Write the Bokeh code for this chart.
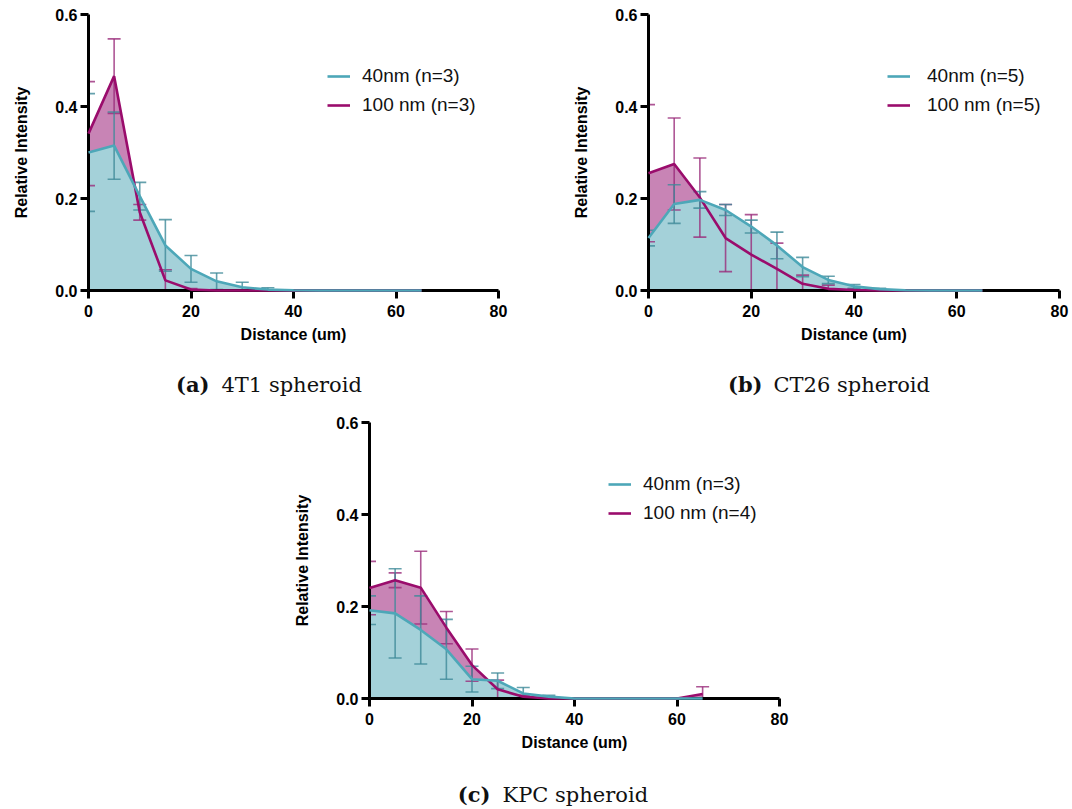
from bokeh.plotting import figure
from bokeh.models import Range1d, Legend, LegendItem, FixedTicker, NumeralTickFormatter, Spacer
from bokeh.layouts import row, column
from bokeh.core.properties import value
from bokeh.embed import file_html
from bokeh.resources import INLINE

# ---------------- data ----------------
distance = [0, 5, 10, 15, 20, 25, 30, 35, 40, 45, 50, 55, 60, 65]
x_ticks = [0, 20, 40, 60, 80]
y_ticks = [0.0, 0.2, 0.4, 0.6]

# (a) 4T1 spheroid
a_40_mean = [0.300, 0.315, 0.205, 0.098, 0.047, 0.020, 0.007, 0.002, 0.0005, 0, 0, 0, 0, 0]
a_40_err = [0.128, 0.073, 0.030, 0.056, 0.029, 0.018, 0.011, 0.004, 0.001, 0, 0, 0, 0, 0]
a_100_mean = [0.341, 0.466, 0.170, 0.022, 0.002, 0, 0, 0, 0, 0, 0, 0, 0, 0]
a_100_err = [0.113, 0.081, 0.017, 0.023, 0.002, 0, 0, 0, 0, 0, 0, 0, 0, 0]

# (b) CT26 spheroid
b_40_mean = [0.114, 0.188, 0.197, 0.175, 0.139, 0.098, 0.051, 0.023, 0.009, 0.003, 0.0005, 0, 0, 0]
b_40_err = [0.017, 0.042, 0.018, 0.012, 0.014, 0.029, 0.021, 0.008, 0.004, 0.002, 0.001, 0, 0, 0]
b_100_mean = [0.255, 0.275, 0.202, 0.114, 0.078, 0.047, 0.0145, 0.0036, 0.001, 0, 0, 0, 0, 0]
b_100_err = [0.149, 0.100, 0.086, 0.073, 0.087, 0.056, 0.019, 0.008, 0.002, 0, 0, 0, 0, 0]

# (c) KPC spheroid
c_40_mean = [0.192, 0.185, 0.149, 0.107, 0.042, 0.0385, 0.011, 0.004, 0, 0, 0, 0, 0, 0]
c_40_err = [0.031, 0.097, 0.074, 0.065, 0.028, 0.017, 0.013, 0.003, 0, 0, 0, 0, 0, 0]
c_100_mean = [0.240, 0.257, 0.241, 0.154, 0.0726, 0.020, 0.004, 0, 0, 0, 0, 0, 0, 0.0096]
c_100_err = [0.058, 0.016, 0.079, 0.035, 0.035, 0.020, 0.003, 0, 0, 0, 0, 0, 0, 0.016]

labels_a = ["40nm (n=3)", "100 nm (n=3)"]
labels_b = ["40nm (n=5)", "100 nm (n=5)"]
labels_c = ["40nm (n=3)", "100 nm (n=4)"]

caption_tags = ["(a)", "(b)", "(c)"]
caption_texts = ["4T1 spheroid", "CT26 spheroid", "KPC spheroid"]

# ---------------- style ----------------
TEAL_LINE = "#4DA7B8"
TEAL_FILL = "#A4D1D9"
TEAL_ERR = "#3E8A98"
MAG_LINE = "#9A0C6C"
MAG_FILL = "#C884B5"
MAG_ERR = "#9A2C7A"
SANS = "Liberation Sans"
SERIF = "DejaVu Serif"


def error_bars(p, xs, means, errs, color):
    x = [xi for xi, e in zip(xs, errs) if e > 0]
    lo = [m - e for m, e in zip(means, errs) if e > 0]
    hi = [m + e for m, e in zip(means, errs) if e > 0]
    p.segment(x0=x, y0=lo, x1=x, y1=hi, line_color=color, line_width=1.6, line_alpha=0.8)
    p.scatter(x=x + x, y=lo + hi, marker="dash", size=13, line_color=color,
              line_width=1.6, line_alpha=0.8)


def make_panel(m40, e40, m100, e100, labels, left, top, bottom, right, frame_w, standoff):
    p = figure(frame_width=frame_w, frame_height=276,
               x_range=Range1d(0, 80), y_range=Range1d(0, 0.6),
               output_backend="svg", toolbar_location=None,
               min_border_left=left, min_border_right=right,
               min_border_top=top, min_border_bottom=bottom)
    p.outline_line_color = None
    p.grid.visible = False

    p.varea(x=distance, y1=[0] * len(distance), y2=m100, fill_color=MAG_FILL)
    p.varea(x=distance, y1=[0] * len(distance), y2=m40, fill_color=TEAL_FILL)
    error_bars(p, distance, m100, e100, MAG_ERR)
    error_bars(p, distance, m40, e40, TEAL_ERR)
    l100 = p.line(distance, m100, line_color=MAG_LINE, line_width=2.6, level="overlay")
    l40 = p.line(distance, m40, line_color=TEAL_LINE, line_width=2.6, level="overlay")

    p.xaxis.ticker = FixedTicker(ticks=x_ticks)
    p.yaxis.ticker = FixedTicker(ticks=y_ticks)
    p.yaxis.formatter = NumeralTickFormatter(format="0.0")
    p.xaxis.axis_label = "Distance (um)"
    p.yaxis.axis_label = "Relative Intensity"
    for ax in (p.xaxis[0], p.yaxis[0]):
        ax.axis_line_width = 3
        ax.axis_line_color = "black"
        ax.major_tick_line_width = 3
        ax.major_tick_line_color = "black"
        ax.major_tick_out = 8
        ax.major_tick_in = 0
        ax.minor_tick_line_color = None
        ax.major_label_text_font = SANS
        ax.major_label_text_font_style = "bold"
        ax.major_label_text_font_size = "16px"
        ax.major_label_text_color = "black"
        ax.axis_label_text_font = SANS
        ax.axis_label_text_font_style = "bold"
        ax.axis_label_text_font_size = "16px"
        ax.axis_label_text_color = "black"
    p.xaxis.major_label_standoff = 6
    p.xaxis.axis_label_standoff = 6
    p.yaxis.major_label_standoff = 3
    p.yaxis.axis_label_standoff = 22

    legend = Legend(items=[LegendItem(label=labels[0], renderers=[l40]),
                           LegendItem(label=labels[1], renderers=[l100])],
                    location=(239, 174), orientation="vertical",
                    label_text_font=SANS, label_text_font_size="19px",
                    label_text_color="#111111",
                    glyph_width=23, glyph_height=20, label_height=20,
                    label_standoff=standoff, spacing=7, padding=0, margin=0,
                    border_line_color=None, background_fill_alpha=0)
    p.add_layout(legend)
    return p


def make_caption(tag, text, width, height, tag_right, text_left, mid_y):
    # caption strip; its frame lines up with the panel's plot frame above it
    c = figure(frame_width=width, frame_height=height,
               x_range=Range1d(0, width), y_range=Range1d(0, height),
               x_axis_type=None, y_axis_type=None,
               min_border=0, min_border_left=0, min_border_right=0,
               min_border_top=0, min_border_bottom=0,
               output_backend="svg", toolbar_location=None)
    c.outline_line_color = None
    c.grid.visible = False
    c.text(x=[tag_right], y=[mid_y], text=[tag], text_font=value(SERIF),
           text_font_style="bold", text_font_size="21px", text_align="right",
           text_baseline="middle", text_color="#111111")
    c.text(x=[text_left], y=[mid_y], text=[text], text_font=value(SERIF),
           text_font_size="21px", text_align="left",
           text_baseline="middle", text_color="#111111")
    return c


p1 = make_panel(a_40_mean, a_40_err, a_100_mean, a_100_err, labels_a, 88, 14, 55, 62, 410, 12)
p2 = make_panel(b_40_mean, b_40_err, b_100_mean, b_100_err, labels_b, 88, 14, 55, 11, 411, 17)
p3 = make_panel(c_40_mean, c_40_err, c_100_mean, c_100_err, labels_c, 88, 22, 55, 30, 410, 12)

cap1 = make_caption(caption_tags[0], caption_texts[0], 410, 55, 121, 133, 16)
cap2 = make_caption(caption_tags[1], caption_texts[1], 411, 55, 114, 125, 16)
cap3 = make_caption(caption_tags[2], caption_texts[2], 410, 54, 121, 133, 13)

layout = column(row(column(p1, cap1), column(p2, cap2)),
                row(Spacer(width=281, height=10), column(p3, cap3)))

open("out.html", "w").write(file_html(layout, INLINE))
